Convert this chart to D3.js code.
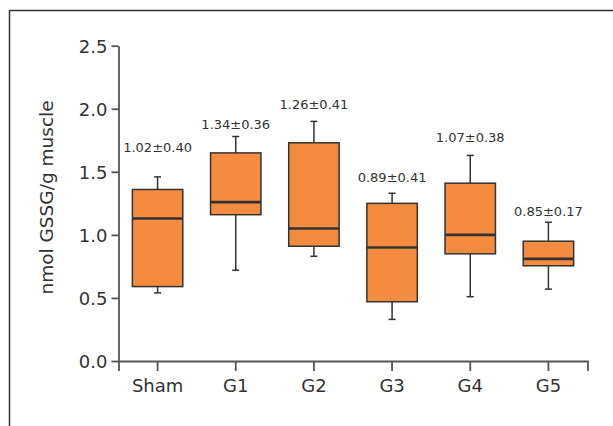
<!DOCTYPE html>
<html>
<head>
<meta charset="utf-8">
<script src="https://cdnjs.cloudflare.com/ajax/libs/d3/7.8.5/d3.min.js"></script>
<style>
  html, body { margin: 0; padding: 0; background: #fff; }
  svg { display: block; font-family: "DejaVu Sans", Verdana, sans-serif; }
</style>
</head>
<body>
<div id="chart"></div>
<script>
// groups and box statistics (nmol GSSG/g muscle)
var groups   = ["Sham", "G1", "G2", "G3", "G4", "G5"];
var whiskLo  = [0.54, 0.72, 0.83, 0.33, 0.51, 0.57];
var q1       = [0.59, 1.16, 0.91, 0.47, 0.85, 0.755];
var medians  = [1.13, 1.26, 1.05, 0.90, 1.00, 0.81];
var q3       = [1.36, 1.65, 1.73, 1.25, 1.41, 0.95];
var whiskHi  = [1.46, 1.78, 1.90, 1.33, 1.63, 1.10];
var meanSd   = ["1.02±0.40", "1.34±0.36", "1.26±0.41", "0.89±0.41", "1.07±0.38", "0.85±0.17"];
var labelAt  = [1.66, 1.84, 2.00, 1.42, 1.74, 1.15];
var yTicks   = [0, 0.5, 1.0, 1.5, 2.0, 2.5];

var width = 613, height = 426;
var svg = d3.select("#chart").append("svg")
    .attr("width", width)
    .attr("height", height);

// outer frame (runs off the right and bottom edges)
svg.append("rect")
    .attr("x", 9.5).attr("y", 10.5)
    .attr("width", 700).attr("height", 500)
    .attr("fill", "none")
    .attr("stroke", "#333")
    .attr("stroke-width", 1.5);

var x = d3.scaleBand().domain(groups).range([118.5, 587.5]).padding(0);
var y = d3.scaleLinear().domain([0, 2.5]).range([361, 45.7]);

var data = groups.map(function(g, i) {
    return { g: g, lo: whiskLo[i], q1: q1[i], med: medians[i], q3: q3[i], hi: whiskHi[i], lab: meanSd[i], at: labelAt[i] };
});

// axes
var yAxis = svg.append("g")
    .attr("transform", "translate(" + x.range()[0] + ",0)")
    .call(d3.axisLeft(y).tickValues(yTicks).tickFormat(d3.format(".1f")).tickSize(7).tickSizeOuter(0).tickPadding(4));

var xAxis = svg.append("g")
    .attr("transform", "translate(0," + y(0) + ")")
    .call(d3.axisBottom(x).tickSize(10).tickSizeOuter(10).tickPadding(8));

[yAxis, xAxis].forEach(function(ax) {
    ax.select(".domain").attr("stroke", "#555").attr("stroke-width", 1.8);
    ax.selectAll(".tick line").attr("stroke", "#555").attr("stroke-width", 1.8);
    ax.selectAll(".tick text")
        .attr("fill", "#333")
        .style("font-size", "18px")
        .style("font-family", "'DejaVu Sans', Verdana, sans-serif");
});
yAxis.selectAll(".tick text").attr("dy", "0.35em");

// y title
svg.append("text")
    .attr("transform", "translate(53,197.5) rotate(-90)")
    .attr("text-anchor", "middle")
    .attr("fill", "#333")
    .style("font-size", "18.5px")
    .text("nmol GSSG/g muscle");

var bw = x.bandwidth() * 0.645;
var capW = 7;

var box = svg.append("g").attr("class", "boxes")
    .selectAll("g")
    .data(data)
    .enter().append("g")
    .attr("transform", function(d) { return "translate(" + (x(d.g) + x.bandwidth() / 2) + ",0)"; });

// whiskers
box.append("line")
    .attr("x1", 0).attr("x2", 0)
    .attr("y1", function(d) { return y(d.hi); })
    .attr("y2", function(d) { return y(d.lo); })
    .attr("stroke", "#333").attr("stroke-width", 1.5);

box.selectAll("line.cap")
    .data(function(d) { return [d.hi, d.lo]; })
    .enter().append("line")
    .attr("class", "cap")
    .attr("x1", -capW / 2).attr("x2", capW / 2)
    .attr("y1", function(v) { return y(v); })
    .attr("y2", function(v) { return y(v); })
    .attr("stroke", "#333").attr("stroke-width", 1.5);

box.append("rect")
    .attr("x", -bw / 2)
    .attr("width", bw)
    .attr("y", function(d) { return y(d.q3); })
    .attr("height", function(d) { return y(d.q1) - y(d.q3); })
    .attr("fill", "#F58B3F")
    .attr("stroke", "#333")
    .attr("stroke-width", 1.5);

box.append("line")
    .attr("x1", -bw / 2).attr("x2", bw / 2)
    .attr("y1", function(d) { return y(d.med); })
    .attr("y2", function(d) { return y(d.med); })
    .attr("stroke", "#333").attr("stroke-width", 2.6);

box.append("text")
    .attr("x", 0)
    .attr("y", function(d) { return y(d.at); })
    .attr("text-anchor", "middle")
    .attr("fill", "#333")
    .style("font-size", "13px")
    .text(function(d) { return d.lab; });
</script>
</body>
</html>
